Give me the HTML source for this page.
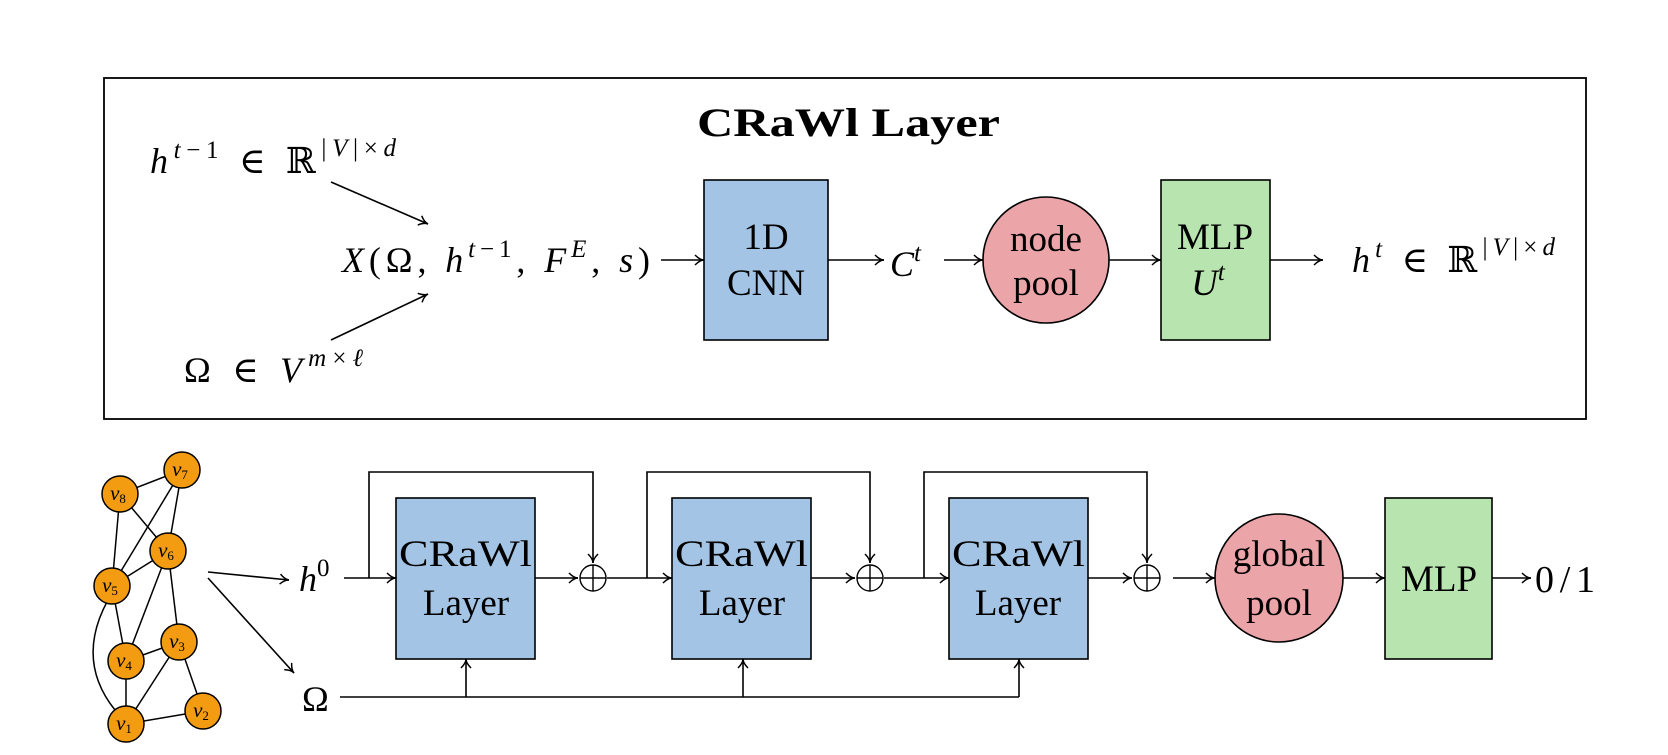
<!DOCTYPE html>
<html><head><meta charset="utf-8"><style>
html,body{margin:0;padding:0;background:#fff;}
svg{display:block;}
text{font-family:"Liberation Serif","DejaVu Serif",serif;fill:#000;}
.it{font-style:italic;}
</style></head><body>
<svg width="1668" height="755" viewBox="0 0 1668 755" xmlns="http://www.w3.org/2000/svg">
<defs>
<marker id="a" markerWidth="12" markerHeight="12" refX="10" refY="6" orient="auto" markerUnits="userSpaceOnUse">
<path d="M1,1 Q6,6 10,6 Q6,6 1,11" fill="none" stroke="#000" stroke-width="1.5"/>
</marker>
</defs>
<g stroke="#000" stroke-width="1.6" fill="none">
<rect x="104" y="78" width="1482" height="341" stroke-width="1.8"/>
</g>
<text x="697" y="136" font-size="40" font-weight="bold" textLength="303" lengthAdjust="spacingAndGlyphs">CRaWl Layer</text>

<!-- top row -->
<text x="150" y="173" font-size="36" textLength="246" lengthAdjust="spacing"><tspan class="it">h</tspan><tspan font-size="25" dy="-15" class="it">t</tspan><tspan font-size="25">−1</tspan><tspan dy="15"> ∈ ℝ</tspan><tspan font-size="25" dy="-17">|</tspan><tspan font-size="25" class="it">V</tspan><tspan font-size="25">|×</tspan><tspan font-size="25" class="it">d</tspan></text>
<text x="184" y="382" font-size="36" textLength="179" lengthAdjust="spacing">Ω ∈ <tspan class="it">V</tspan><tspan font-size="25" dy="-16" class="it">m</tspan><tspan font-size="25">×</tspan><tspan font-size="25" class="it">ℓ</tspan></text>
<text x="342" y="272" font-size="36" textLength="308" lengthAdjust="spacing"><tspan class="it">X</tspan>(Ω, <tspan class="it">h</tspan><tspan font-size="25" dy="-15" class="it">t</tspan><tspan font-size="25">−1</tspan><tspan dy="15">, </tspan><tspan class="it">F</tspan><tspan font-size="25" dy="-15" class="it">E</tspan><tspan dy="15">, </tspan><tspan class="it">s</tspan>)</text>
<g stroke="#000" stroke-width="1.6" fill="none" marker-end="url(#a)">
<line x1="331" y1="182" x2="428" y2="224"/>
<line x1="331" y1="340" x2="428" y2="294"/>
<line x1="661" y1="260" x2="704" y2="260"/>
<line x1="828" y1="260" x2="884" y2="260"/>
<line x1="944" y1="260" x2="983" y2="260"/>
<line x1="1109" y1="260" x2="1161" y2="260"/>
<line x1="1270" y1="260" x2="1323" y2="260"/>
</g>
<rect x="704" y="180" width="124" height="160" fill="#a3c4e4" stroke="#000" stroke-width="1.6"/>
<text x="766" y="249" font-size="37" text-anchor="middle">1D</text>
<text x="766" y="295" font-size="37" text-anchor="middle">CNN</text>
<text x="890" y="276" font-size="36" class="it">C<tspan font-size="25" dy="-15">t</tspan></text>
<circle cx="1046" cy="260" r="63" fill="#eba5a9" stroke="#000" stroke-width="1.6"/>
<text x="1046" y="251" font-size="37" text-anchor="middle">node</text>
<text x="1046" y="295" font-size="37" text-anchor="middle">pool</text>
<rect x="1161" y="180" width="109" height="160" fill="#b8e4b0" stroke="#000" stroke-width="1.6"/>
<text x="1215" y="249" font-size="37" text-anchor="middle">MLP</text>
<text x="1208" y="295" font-size="37" class="it" text-anchor="middle">U<tspan font-size="25" dy="-15">t</tspan></text>
<text x="1352" y="272" font-size="36" textLength="203" lengthAdjust="spacing"><tspan class="it">h</tspan><tspan font-size="25" dy="-15" class="it">t</tspan><tspan dy="15"> ∈ ℝ</tspan><tspan font-size="25" dy="-17">|</tspan><tspan font-size="25" class="it">V</tspan><tspan font-size="25">|×</tspan><tspan font-size="25" class="it">d</tspan></text>

<!-- graph -->
<g stroke="#000" stroke-width="1.5" fill="none">
<line x1="120" y1="494" x2="182" y2="470"/>
<line x1="120" y1="494" x2="112" y2="586"/>
<line x1="120" y1="494" x2="168" y2="551"/>
<line x1="182" y1="470" x2="112" y2="586"/>
<line x1="182" y1="470" x2="168" y2="551"/>
<line x1="112" y1="586" x2="168" y2="551"/>
<line x1="112" y1="586" x2="126" y2="661"/>
<line x1="168" y1="551" x2="126" y2="661"/>
<line x1="168" y1="551" x2="179" y2="642"/>
<line x1="126" y1="661" x2="179" y2="642"/>
<line x1="126" y1="661" x2="126" y2="724"/>
<line x1="179" y1="642" x2="126" y2="724"/>
<line x1="179" y1="642" x2="203" y2="711"/>
<line x1="126" y1="724" x2="203" y2="711"/>
<path d="M108,600 Q75,660 115,710"/>
</g>
<g fill="#f39c12" stroke="#000" stroke-width="1.5">
<circle cx="120" cy="494" r="18"/><circle cx="182" cy="470" r="18"/>
<circle cx="168" cy="551" r="18"/><circle cx="112" cy="586" r="18"/>
<circle cx="179" cy="642" r="18"/><circle cx="126" cy="661" r="18"/>
<circle cx="203" cy="711" r="18"/><circle cx="126" cy="724" r="18"/>
</g>
<g font-size="21" text-anchor="middle">
<text x="118" y="500" class="it">v<tspan font-size="13" font-style="normal" dy="3">8</tspan></text>
<text x="180" y="476" class="it">v<tspan font-size="13" font-style="normal" dy="3">7</tspan></text>
<text x="166" y="557" class="it">v<tspan font-size="13" font-style="normal" dy="3">6</tspan></text>
<text x="110" y="592" class="it">v<tspan font-size="13" font-style="normal" dy="3">5</tspan></text>
<text x="177" y="648" class="it">v<tspan font-size="13" font-style="normal" dy="3">3</tspan></text>
<text x="124" y="667" class="it">v<tspan font-size="13" font-style="normal" dy="3">4</tspan></text>
<text x="201" y="717" class="it">v<tspan font-size="13" font-style="normal" dy="3">2</tspan></text>
<text x="124" y="730" class="it">v<tspan font-size="13" font-style="normal" dy="3">1</tspan></text>
</g>

<!-- bottom pipeline -->
<g stroke="#000" stroke-width="1.6" fill="none">
<polyline points="369,578 369,472 593,472 593,563" marker-end="url(#a)"/>
<polyline points="647,578 647,472 870,472 870,563" marker-end="url(#a)"/>
<polyline points="924,578 924,472 1147,472 1147,563" marker-end="url(#a)"/>
<line x1="340" y1="697" x2="1019" y2="697"/>
</g>
<g stroke="#000" stroke-width="1.6" fill="none" marker-end="url(#a)">
<line x1="208" y1="572" x2="289" y2="580"/>
<line x1="208" y1="578" x2="294" y2="673"/>
<line x1="344" y1="578" x2="396" y2="578"/>
<line x1="535" y1="578" x2="578" y2="578"/>
<line x1="607" y1="578" x2="672" y2="578"/>
<line x1="811" y1="578" x2="855" y2="578"/>
<line x1="884" y1="578" x2="949" y2="578"/>
<line x1="1088" y1="578" x2="1132" y2="578"/>
<line x1="1173" y1="578" x2="1215" y2="578"/>
<line x1="1343" y1="578" x2="1385" y2="578"/>
<line x1="1492" y1="578" x2="1531" y2="578"/>
<line x1="466" y1="697" x2="466" y2="659"/>
<line x1="743" y1="697" x2="743" y2="659"/>
<line x1="1019" y1="697" x2="1019" y2="659"/>
</g>
<text x="299" y="591" font-size="36"><tspan class="it">h</tspan><tspan font-size="25" dy="-15">0</tspan></text>
<text x="302" y="711" font-size="36">Ω</text>
<g fill="#a3c4e4" stroke="#000" stroke-width="1.6">
<rect x="396" y="498" width="139" height="161"/>
<rect x="672" y="498" width="139" height="161"/>
<rect x="949" y="498" width="139" height="161"/>
</g>
<g font-size="37">
<text x="399" y="566" textLength="133" lengthAdjust="spacingAndGlyphs">CRaWl</text><text x="466" y="615" text-anchor="middle">Layer</text>
<text x="675" y="566" textLength="133" lengthAdjust="spacingAndGlyphs">CRaWl</text><text x="742" y="615" text-anchor="middle">Layer</text>
<text x="952" y="566" textLength="133" lengthAdjust="spacingAndGlyphs">CRaWl</text><text x="1018" y="615" text-anchor="middle">Layer</text>
</g>
<g stroke="#000" stroke-width="1.4" fill="none">
<circle cx="593" cy="578" r="13"/><line x1="580" y1="578" x2="606" y2="578"/><line x1="593" y1="565" x2="593" y2="591"/>
<circle cx="870" cy="578" r="13"/><line x1="857" y1="578" x2="883" y2="578"/><line x1="870" y1="565" x2="870" y2="591"/>
<circle cx="1147" cy="578" r="13"/><line x1="1134" y1="578" x2="1160" y2="578"/><line x1="1147" y1="565" x2="1147" y2="591"/>
</g>
<ellipse cx="1279" cy="578" rx="64" ry="64" fill="#eba5a9" stroke="#000" stroke-width="1.6"/>
<text x="1279" y="566" font-size="37" text-anchor="middle">global</text>
<text x="1279" y="615" font-size="37" text-anchor="middle">pool</text>
<rect x="1385" y="498" width="107" height="161" fill="#b8e4b0" stroke="#000" stroke-width="1.6"/>
<text x="1439" y="591" font-size="37" text-anchor="middle">MLP</text>
<text x="1535" y="592" font-size="38" textLength="60" lengthAdjust="spacing">0/1</text>
</svg>
</body></html>
